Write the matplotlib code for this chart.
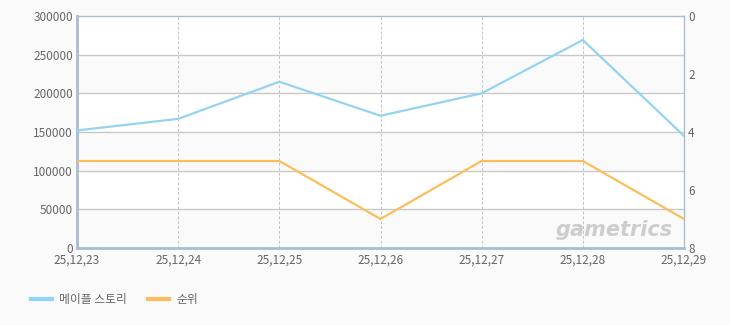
import matplotlib
matplotlib.use("Agg")
import matplotlib.pyplot as plt
from matplotlib.lines import Line2D

plt.rcParams['font.family'] = ['Noto Sans CJK KR', 'DejaVu Sans']

dates = ["25,12,23", "25,12,24", "25,12,25", "25,12,26", "25,12,27", "25,12,28", "25,12,29"]
maple = [152000, 167000, 215000, 171000, 200000, 269000, 145000]
rank = [5, 5, 5, 7, 5, 5, 7]

blue = "#94d3f2"
orange = "#fdbd5b"
txt = "#666666"
border = "#a9bdd2"

fig = plt.figure(figsize=(7.3, 3.25), dpi=100)
fig.patch.set_facecolor("#fafafa")
ax = fig.add_axes([77 / 730, 77 / 325, 607 / 730, 232 / 325])
ax.set_facecolor("white")

x = list(range(len(dates)))
ax.set_xlim(0, len(dates) - 1)
ax.set_ylim(0, 300000)
yt = list(range(0, 300001, 50000))
ax.set_yticks(yt)
ax.set_yticklabels([str(v) for v in yt])

# alternating bands
for i, lo in enumerate(yt[:-1]):
    if i % 2 == 0:
        ax.axhspan(lo, lo + 50000, color="#fafafa", zorder=0, lw=0)
for v in yt[1:-1]:
    ax.axhline(v, color="#c8c8c8", lw=1, zorder=1)
for xi in x[1:-1]:
    ax.axvline(xi, color="#c4c4c4", lw=0.7, ls=(0, (3, 2)), zorder=1)

ax.set_xticks(x)
ax.set_xticklabels(dates)
ax.tick_params(length=0, labelsize=8.5, colors=txt)
ax.tick_params(axis="x", pad=4)
ax.tick_params(axis="y", pad=3)

for s in ax.spines.values():
    s.set_color(border)
    s.set_linewidth(1)
ax.spines["left"].set_linewidth(2)
ax.spines["bottom"].set_linewidth(2)

ax.plot(x, maple, color=blue, lw=1.6, zorder=3)

ax2 = ax.twinx()
ax2.set_ylim(8, 0)
ax2.set_yticks([0, 2, 4, 6, 8])
ax2.tick_params(length=0, labelsize=8.5, colors=txt, pad=3)
for s in ax2.spines.values():
    s.set_visible(False)
ax2.plot(x, rank, color=orange, lw=1.6, zorder=3)

# watermark
ax.text(0.982, 0.035, "gametrics", transform=ax.transAxes, ha="right", va="bottom",
        fontsize=15, fontweight="bold", style="italic", color="#cdcdcd",
        family="DejaVu Sans", zorder=2)

handles = [Line2D([], [], color=blue, lw=3), Line2D([], [], color=orange, lw=3)]
fig.legend(handles, ["메이플 스토리", "순위"], loc="lower left",
           bbox_to_anchor=(20 / 730, 8 / 325), ncol=2, frameon=False,
           fontsize=8.5, handlelength=1.8, handletextpad=0.6, columnspacing=1.8,
           labelcolor=txt)

fig.savefig("out.png", dpi=100, facecolor=fig.get_facecolor())
